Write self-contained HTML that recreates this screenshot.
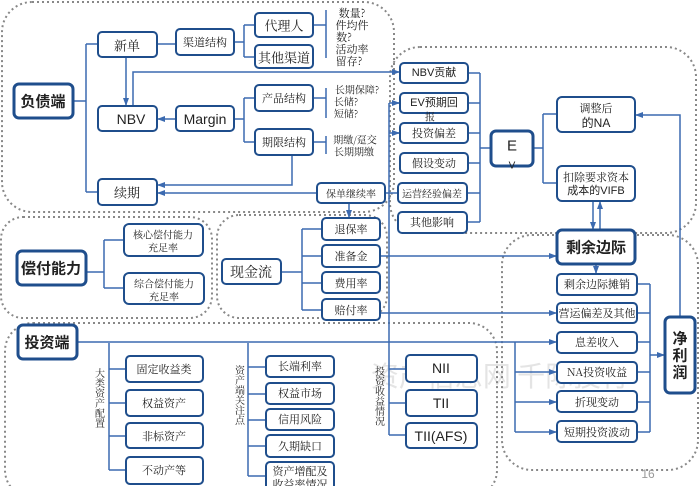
<!DOCTYPE html>
<html><head><meta charset="utf-8"><style>
html,body{margin:0;padding:0;background:#fff;}
svg{display:block;font-family:"Liberation Sans","Noto Serif CJK SC","Noto Sans CJK SC",sans-serif;}
.b{fill:#fff;stroke:#1f4e8c;stroke-width:2;}
.bt{fill:#fff;stroke:#1f4e8c;stroke-width:3;}
.l{fill:none;stroke:#3b6ab0;stroke-width:1.5;}
.d{fill:none;stroke:#888;stroke-width:2;stroke-dasharray:2 3;}
text{fill:#222;text-anchor:middle;dominant-baseline:central;}
.s{font-size:11px;font-family:"Noto Serif CJK SC","Liberation Serif",serif;}
.m{font-size:13px;font-family:"Noto Serif CJK SC","Liberation Serif",serif;}
.k{font-size:15px;font-weight:bold;font-family:"Noto Sans CJK SC",sans-serif;}
.e{font-size:14px;font-family:"Liberation Sans",sans-serif;}
</style></head><body>
<svg width="700" height="486" viewBox="0 0 700 486" xmlns="http://www.w3.org/2000/svg">
<defs><marker id="a" markerWidth="8" markerHeight="8" refX="7" refY="4" orient="auto" markerUnits="userSpaceOnUse"><path d="M0,1 L8,4 L0,7 z" fill="#3b6ab0"/></marker></defs>
<text x="500" y="375" style="font-size:28px;fill:#e4e4e4;font-family:'Noto Sans CJK SC',sans-serif">资产信息网 千际投行</text>
<!-- containers -->
<rect class="d" x="2" y="2" width="392" height="210" rx="30"/>
<rect class="d" x="390" y="47" width="306" height="186" rx="30"/>
<rect class="d" x="1" y="217" width="211" height="101" rx="22"/>
<rect class="d" x="217" y="215" width="170" height="103" rx="22"/>
<rect class="d" x="502" y="235" width="196" height="235" rx="30"/>
<rect class="d" x="5" y="323" width="492" height="175" rx="28"/>
<!-- lines -->
<path class="l" d="M73,101 H86 M86,44 V192 M86,44 H98 M86,192 H98"/>
<path class="l" d="M157,44 H176 M234,42 H244 M244,25 V57 M244,25 H255 M244,57 H255"/>
<path class="l" d="M313,25 H326 M326,10 V58 M313,98 H326 M326,88 V118 M313,142 H326 M326,136 V154"/>
<path class="l" d="M126,57 V105" marker-end="url(#a)"/>
<path class="l" d="M133,106 V72 H399" marker-end="url(#a)"/>
<path class="l" d="M176,119 H158" marker-end="url(#a)"/>
<path class="l" d="M234,119 H244 M244,98 V142 M244,98 H255 M244,142 H255"/>
<path class="l" d="M292,155 V185 H158" marker-end="url(#a)"/>
<path class="l" d="M317,193 H158" marker-end="url(#a)"/>
<path class="l" d="M385,193 H398"/>
<path class="l" d="M349,203 V217" marker-end="url(#a)"/>
<path class="l" d="M389,103 V435 M389,103 H399 M389,133 H399" />
<path class="l" d="M392,103 H399" marker-end="url(#a)"/>
<path class="l" d="M392,133 H399" marker-end="url(#a)"/>
<path class="l" d="M468,73 H480 M468,103 H480 M468,133 H480 M468,163 H480 M467,193 H480 M467,222 H480 M480,73 V222 M480,148 H491"/>
<path class="l" d="M533,148 H543 M543,114 V183 M543,114 H557 M543,183 H557"/>
<path class="l" d="M593,201 V229" marker-end="url(#a)"/>
<path class="l" d="M600,229 V202" marker-end="url(#a)"/>
<path class="l" d="M281,272 H302 M302,229 V310 M302,229 H322 M302,256 H322 M302,283 H322 M302,310 H322"/>
<path class="l" d="M380,256 H556" marker-end="url(#a)"/>
<path class="l" d="M380,313 H556" marker-end="url(#a)"/>
<path class="l" d="M596,264 V273" marker-end="url(#a)"/>
<path class="l" d="M77,342 H556" marker-end="url(#a)"/>
<path class="l" d="M515,342 V432"/>
<path class="l" d="M515,372 H556" marker-end="url(#a)"/>
<path class="l" d="M515,402 H556" marker-end="url(#a)"/>
<path class="l" d="M515,432 H556" marker-end="url(#a)"/>
<path class="l" d="M637,284 H650 M637,313 H650 M637,342 H650 M637,372 H650 M637,402 H650 M637,432 H650 M650,284 V432"/>
<path class="l" d="M650,355 H664" marker-end="url(#a)"/>
<path class="l" d="M680,317 V115 H636" marker-end="url(#a)"/>
<path class="l" d="M109,343 V470 M109,369 H126 M109,403 H126 M109,436 H126 M109,470 H126"/>
<path class="l" d="M248,343 V476 M248,367 H266 M248,394 H266 M248,420 H266 M248,446 H266 M248,476 H266"/>
<path class="l" d="M389,369 H406 M389,403 H406 M389,435 H406"/>
<path class="l" d="M86,272 H104 M104,240 V288 M104,240 H124 M104,288 H124"/>
<!-- boxes -->
<rect class="bt" x="14" y="84" width="59" height="34" rx="5"/><text class="k" x="43" y="101">负债端</text>
<rect class="b" x="98" y="32" width="59" height="25" rx="4"/><text class="m" x="127" y="45">新单</text>
<rect class="b" x="176" y="29" width="58" height="26" rx="4"/><text class="s" x="205" y="42">渠道结构</text>
<rect class="b" x="255" y="13" width="58" height="24" rx="4"/><text class="m" x="284" y="25">代理人</text>
<rect class="b" x="255" y="45" width="58" height="23" rx="4"/><text class="m" x="284" y="57">其他渠道</text>
<text class="s" x="352" y="13">数量?</text><text class="s" x="352" y="25">件均件</text><text class="s" x="344" y="37">数?</text><text class="s" x="352" y="49">活动率</text><text class="s" x="349" y="61">留存?</text>
<rect class="b" x="98" y="106" width="59" height="25" rx="4"/><text class="e" x="131" y="119">NBV</text>
<rect class="b" x="176" y="106" width="58" height="25" rx="4"/><text class="e" x="205" y="119">Margin</text>
<rect class="b" x="255" y="85" width="58" height="26" rx="4"/><text class="s" x="284" y="98">产品结构</text>
<rect class="b" x="255" y="129" width="58" height="26" rx="4"/><text class="s" x="284" y="142">期限结构</text>
<text class="s" x="357" y="89" style="font-size:10px">长期保障?</text><text class="s" x="346" y="101" style="font-size:10px">长储?</text><text class="s" x="346" y="113" style="font-size:10px">短储?</text>
<text class="s" x="355" y="139" style="font-size:10px">期缴/趸交</text><text class="s" x="354" y="151" style="font-size:10px">长期期缴</text>
<rect class="b" x="98" y="179" width="59" height="26" rx="4"/><text class="m" x="127" y="192">续期</text>
<rect class="b" x="317" y="183" width="68" height="20" rx="4"/><text class="s" x="351" y="193" style="font-size:10px">保单继续率</text>
<rect class="b" x="400" y="63" width="68" height="20" rx="4"/><text class="e" x="434" y="73" style="font-size:11px">NBV贡献</text>
<rect class="b" x="400" y="93" width="68" height="20" rx="4"/><text class="e" x="434" y="103" style="font-size:11px">EV预期回</text><text class="s" x="430" y="116" style="font-size:10px">报</text>
<rect class="b" x="400" y="123" width="68" height="20" rx="4"/><text class="s" x="434" y="133">投资偏差</text>
<rect class="b" x="400" y="153" width="68" height="20" rx="4"/><text class="s" x="434" y="163">假设变动</text>
<rect class="b" x="398" y="183" width="69" height="20" rx="4"/><text class="s" x="432" y="193" style="font-size:10px">运营经验偏差</text>
<rect class="b" x="398" y="212" width="69" height="21" rx="4"/><text class="s" x="432" y="222">其他影响</text>
<rect class="bt" x="491" y="131" width="42" height="35" rx="5"/><text class="e" x="512" y="146" style="font-size:15px">E</text><text class="e" x="512" y="166" style="font-size:10px">V</text>
<rect class="b" x="557" y="97" width="78" height="35" rx="5"/><text class="s" x="596" y="108">调整后</text><text class="e" x="596" y="123" style="font-size:12px">的NA</text>
<rect class="b" x="557" y="166" width="78" height="35" rx="5"/><text class="s" x="596" y="177">扣除要求资本</text><text class="e" x="596" y="191" style="font-size:11px">成本的VIFB</text>
<rect class="bt" x="17" y="251" width="69" height="34" rx="5"/><text class="k" x="51" y="268">偿付能力</text>
<rect class="b" x="124" y="224" width="79" height="32" rx="5"/><text class="s" x="163" y="234" style="font-size:10px">核心偿付能力</text><text class="s" x="163" y="247" style="font-size:10px">充足率</text>
<rect class="b" x="124" y="273" width="80" height="31" rx="5"/><text class="s" x="164" y="283" style="font-size:10px">综合偿付能力</text><text class="s" x="164" y="296" style="font-size:10px">充足率</text>
<rect class="b" x="222" y="259" width="59" height="25" rx="4"/><text class="m" x="251" y="272" style="font-size:14px">现金流</text>
<rect class="b" x="322" y="218" width="58" height="22" rx="4"/><text class="s" x="351" y="229">退保率</text>
<rect class="b" x="322" y="245" width="58" height="22" rx="4"/><text class="s" x="351" y="256">准备金</text>
<rect class="b" x="322" y="272" width="58" height="21" rx="4"/><text class="s" x="351" y="283">费用率</text>
<rect class="b" x="322" y="299" width="58" height="21" rx="4"/><text class="s" x="351" y="310">赔付率</text>
<rect class="bt" x="557" y="230" width="78" height="34" rx="5"/><text class="k" x="596" y="247">剩余边际</text>
<rect class="b" x="557" y="274" width="80" height="21" rx="4"/><text class="s" x="597" y="284">剩余边际摊销</text>
<rect class="b" x="557" y="303" width="80" height="20" rx="4"/><text class="s" x="597" y="313">营运偏差及其他</text>
<rect class="b" x="557" y="332" width="80" height="21" rx="4"/><text class="s" x="597" y="342">息差收入</text>
<rect class="b" x="557" y="362" width="80" height="21" rx="4"/><text class="s" x="597" y="372">NA投资收益</text>
<rect class="b" x="557" y="391" width="80" height="21" rx="4"/><text class="s" x="597" y="402">折现变动</text>
<rect class="b" x="557" y="421" width="80" height="21" rx="4"/><text class="s" x="597" y="432">短期投资波动</text>
<rect class="bt" x="665" y="317" width="30" height="76" rx="5"/><text class="k" x="680" y="338">净</text><text class="k" x="680" y="355">利</text><text class="k" x="680" y="372">润</text>
<rect class="bt" x="18" y="325" width="59" height="34" rx="5"/><text class="k" x="47" y="342">投资端</text>
<rect class="b" x="126" y="356" width="77" height="26" rx="4"/><text class="s" x="164" y="369">固定收益类</text>
<rect class="b" x="126" y="390" width="77" height="26" rx="4"/><text class="s" x="164" y="403">权益资产</text>
<rect class="b" x="126" y="423" width="77" height="25" rx="4"/><text class="s" x="164" y="436">非标资产</text>
<rect class="b" x="126" y="457" width="77" height="27" rx="4"/><text class="s" x="164" y="470">不动产等</text>
<text class="s" x="100" y="398" style="font-size:10px;writing-mode:vertical-rl">大类资产配置</text>
<rect class="b" x="266" y="356" width="68" height="21" rx="4"/><text class="s" x="300" y="366">长端利率</text>
<rect class="b" x="266" y="383" width="68" height="21" rx="4"/><text class="s" x="300" y="393">权益市场</text>
<rect class="b" x="266" y="409" width="68" height="21" rx="4"/><text class="s" x="300" y="419">信用风险</text>
<rect class="b" x="266" y="435" width="68" height="22" rx="4"/><text class="s" x="300" y="446">久期缺口</text>
<rect class="b" x="266" y="462" width="68" height="30" rx="4"/><text class="s" x="300" y="471">资产增配及</text><text class="s" x="300" y="484">收益率情况</text>
<text class="s" x="240" y="395" style="font-size:10px;writing-mode:vertical-rl">资产端关注点</text>
<rect class="b" x="406" y="355" width="71" height="27" rx="4"/><text class="e" x="441" y="368">NII</text>
<rect class="b" x="406" y="390" width="71" height="26" rx="4"/><text class="e" x="441" y="403">TII</text>
<rect class="b" x="406" y="423" width="71" height="25" rx="4"/><text class="e" x="441" y="436">TII(AFS)</text>
<text class="s" x="380" y="396" style="font-size:10px;writing-mode:vertical-rl">投资收益情况</text>
<text class="e" x="648" y="474" style="font-size:12px;fill:#999">16</text>
</svg>
</body></html>
